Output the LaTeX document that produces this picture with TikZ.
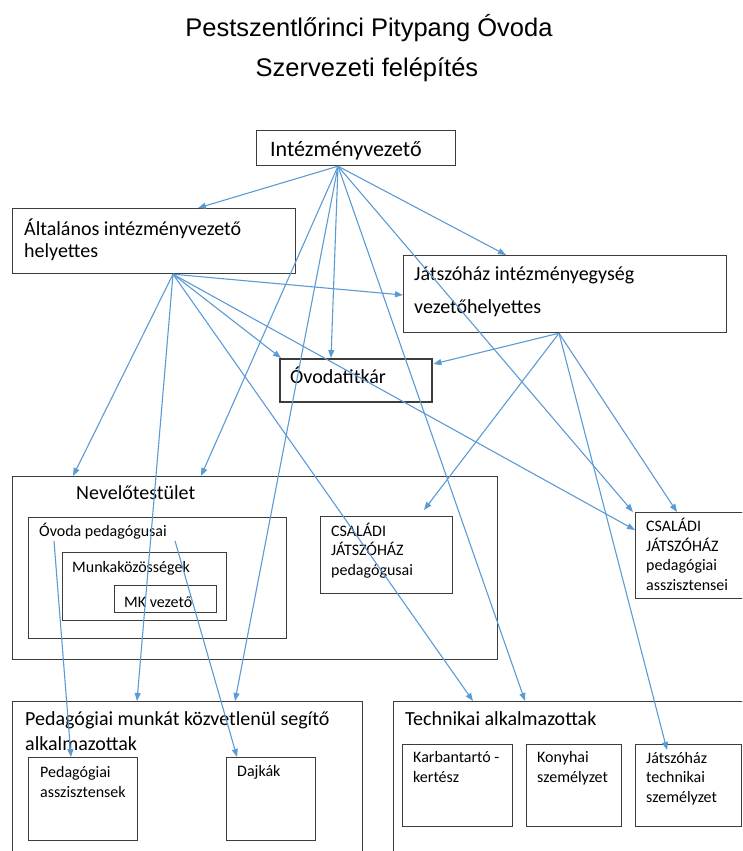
\documentclass[tikz,border=0pt]{standalone}
\usepackage{fontspec}
\setmainfont{Carlito}
\newfontfamily\titlefont{Liberation Sans}
\usetikzlibrary{arrows.meta}
\definecolor{arrowblue}{RGB}{91,155,213}
\definecolor{boxgray}{RGB}{60,60,60}

\begin{document}
\begin{tikzpicture}[x=1pt,y=-1pt,
	orgbox/.style 2 args={rectangle,draw=boxgray,line width=1.2pt,minimum width=#1,minimum height=#2,inner sep=0pt,anchor=north west},
	bigtxt/.style={inner sep=0pt,anchor=base west,align=left,font=\fontsize{20}{22}\selectfont},
	smalltxt/.style={inner sep=0pt,anchor=base west,align=left,font=\fontsize{16}{19.5}\selectfont},
	titletxt/.style={inner sep=0pt,anchor=base,font=\titlefont\fontsize{25.5}{30}\selectfont},
	link/.style={draw=arrowblue,line width=1.1pt},
	>={Triangle[length=8pt,width=6pt]}]
	\useasboundingbox (0,0) rectangle (742,851);
	\clip (0,0) rectangle (742,851);
	% title
	\node[titletxt] (title1) at (369,37) {Pestszentlőrinci Pitypang Óvoda};
	\node[titletxt] (title2) at (367,77) {Szervezeti felépítés};
	% boxes (text nodes sit on the baseline of their last line)
	\node[orgbox={199}{35}] (ivez) at (256,130) {};
	\node[bigtxt,font=\fontsize{22}{24}\selectfont] (ivez-t) at (270,156) {Intézményvezető};
	\node[orgbox={283}{65}] (alt) at (12,208) {};
	\node[bigtxt] (alt-t) at (24,257) {Általános intézményvezető\\helyettes};
	\node[orgbox={323}{77}] (jatsz) at (403,255) {};
	\node[bigtxt,font=\fontsize{20}{33}\selectfont] (jatsz-t) at (414,313) {Játszóház intézményegység\\vezetőhelyettes};
	\node[orgbox={152}{43},line width=2.4pt] (titk) at (279,358) {};
	\node[bigtxt] (titk-t) at (290,383) {Óvodatitkár};
	\node[orgbox={485}{183}] (nev) at (12,476) {};
	\node[bigtxt] (nev-t) at (76,499) {Nevelőtestület};
	\node[orgbox={258}{121}] (ovped) at (28,517) {};
	\node[smalltxt] (ovped-t) at (39,536) {Óvoda pedagógusai};
	\node[orgbox={164}{68}] (mkk) at (62,552) {};
	\node[smalltxt] (mkk-t) at (72,572) {Munkaközösségek};
	\node[orgbox={102}{27}] (mkv) at (114,585) {};
	\node[smalltxt] (mkv-t) at (124,607) {MK vezető};
	\node[orgbox={132}{77}] (csped) at (320,516) {};
	\node[smalltxt] (csped-t) at (331,575) {CSALÁDI\\JÁTSZÓHÁZ\\pedagógusai};
	\node[orgbox={112}{86}] (csass) at (635,512) {};
	\node[smalltxt] (csass-t) at (646,590) {CSALÁDI\\JÁTSZÓHÁZ\\pedagógiai\\asszisztensei};
	\node[orgbox={350}{160}] (pedm) at (12,701) {};
	\node[bigtxt,font=\fontsize{20}{25}\selectfont] (pedm-t) at (25,750) {Pedagógiai munkát közvetlenül segítő\\alkalmazottak};
	\node[orgbox={109}{83}] (pass) at (28,757) {};
	\node[smalltxt] (pass-t) at (40,797) {Pedagógiai\\asszisztensek};
	\node[orgbox={89}{83}] (dajk) at (226,757) {};
	\node[smalltxt] (dajk-t) at (237,776) {Dajkák};
	\node[orgbox={360}{160}] (tech) at (393,701) {};
	\node[bigtxt] (tech-t) at (405,725) {Technikai alkalmazottak};
	\node[orgbox={110}{82}] (karb) at (402,744) {};
	\node[smalltxt] (karb-t) at (413,782) {Karbantartó -\\kertész};
	\node[orgbox={95}{82}] (kony) at (526,744) {};
	\node[smalltxt] (kony-t) at (537,782) {Konyhai\\személyzet};
	\node[orgbox={106}{82}] (jtech) at (635,744) {};
	\node[smalltxt] (jtech-t) at (646,802) {Játszóház\\technikai\\személyzet};
	% from Intézményvezető
	\draw[link,->] ([xshift=82pt]ivez.south west) -- ([xshift=186pt]alt.north west);
	\draw[link,->] ([xshift=82pt]ivez.south west) -- ([xshift=103pt]jatsz.north west);
	\draw[link,->] ([xshift=82pt]ivez.south west) -- ([xshift=52pt]titk.north west);
	\draw[link,->] ([xshift=82pt]ivez.south west) -- ([xshift=189pt]nev.north west);
	\draw[link,->] ([xshift=82pt]ivez.south west) -- ([xshift=223pt]pedm.north west);
	\draw[link,->] ([xshift=82pt]ivez.south west) -- ([xshift=132pt]tech.north west);
	\draw[link,->] ([xshift=82pt]ivez.south west) -- ([xshift=-2pt]csass.north west);
	% from Általános intézményvezető helyettes
	\draw[link,->] ([xshift=161pt]alt.south west) -- ([yshift=-40pt]jatsz.north west);
	\draw[link,->] ([xshift=161pt]alt.south west) -- ([xshift=2pt]titk.north west);
	\draw[link,->] ([xshift=161pt]alt.south west) -- ([xshift=61pt]nev.north west);
	\draw[link,->] ([xshift=161pt]alt.south west) -- ([xshift=125pt]pedm.north west);
	\draw[link,->] ([xshift=161pt]alt.south west) -- ([yshift=-18pt]csass.north west);
	\draw[link,->] ([xshift=161pt]alt.south west) -- ([xshift=80pt]tech.north west);
	% from Játszóház vezetőhelyettes
	\draw[link,->] ([xshift=156pt]jatsz.south west) -- ([yshift=-6pt]titk.north east);
	\draw[link,->] ([xshift=156pt]jatsz.south west) -- ([xshift=104pt,yshift=6pt]csped.north west);
	\draw[link,->] ([xshift=156pt]jatsz.south west) -- ([xshift=42pt]csass.north west);
	\draw[link,->] ([xshift=156pt]jatsz.south west) -- ([xshift=32pt,yshift=-6pt]jtech.north west);
	% from Óvoda pedagógusai
	\draw[link,->] ([xshift=15pt,yshift=-2pt]ovped-t.south west) -- ([xshift=43pt]pass.north west);
	\draw[link,->] ([xshift=8pt,yshift=-2pt]ovped-t.south east) -- ([xshift=11pt]dajk.north west);
\end{tikzpicture}
\end{document}
